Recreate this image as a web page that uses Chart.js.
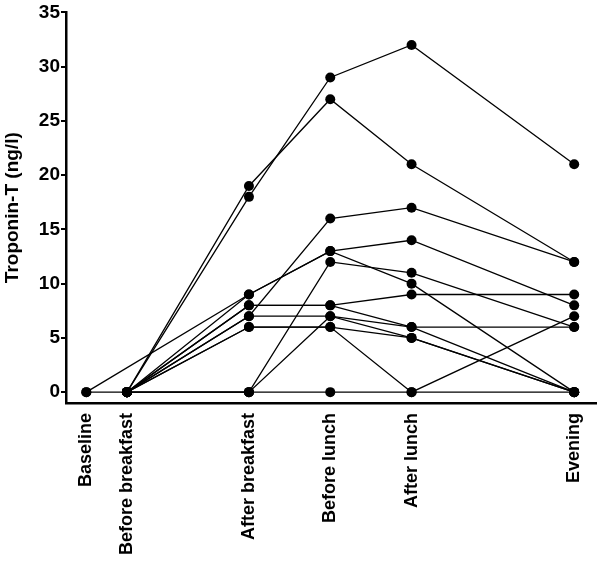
<!DOCTYPE html>
<html><head><meta charset="utf-8">
<script src="https://cdn.jsdelivr.net/npm/chart.js@4"></script>
<style>html,body{margin:0;padding:0;background:#fff}#wrap{width:606px;height:561px}</style>
</head><body><div id="wrap"><canvas id="c" width="606" height="561"></canvas></div>
<script>
const categories = ['Baseline','Before breakfast','After breakfast','Before lunch','After lunch','Evening'];
const timePositions = [0, 1, 4, 6, 8, 12];
const yTicks = [0, 5, 10, 15, 20, 25, 30, 35];
const subject1  = [0,    null, 9,  13, 14, 8];
const subject2  = [null, 0,    18, 29, 32, 21];
const subject3  = [null, 0,    19, 27, 21, 12];
const subject4  = [null, 0,    7,  16, 17, 12];
const subject5  = [null, 0,    9,  13, 10, 0];
const subject6  = [null, 0,    0,  12, 11, 6];
const subject7  = [null, 0,    8,  8,  9,  9];
const subject8  = [null, 0,    8,  8,  6,  0];
const subject9  = [null, 0,    7,  7,  6,  6];
const subject10 = [null, 0,    0,  7,  5,  0];
const subject11 = [null, 0,    6,  6,  5,  0];
const subject12 = [null, 0,    6,  6,  0,  7];
const subject13 = [0,    0,    0,  0,  0,  0];
const subjects = [subject1,subject2,subject3,subject4,subject5,subject6,subject7,subject8,subject9,subject10,subject11,subject12,subject13];

const FONT = "'Liberation Sans', Arial, sans-serif";
const datasets = subjects.map((vals, i) => ({
  label: 'Subject ' + (i + 1),
  data: vals.map((v, k) => ({ x: timePositions[k], y: v })),
  borderColor: '#000',
  backgroundColor: '#000',
  borderWidth: 1.3,
  pointRadius: 5,
  pointBackgroundColor: '#000',
  pointBorderWidth: 0,
  spanGaps: true,
  tension: 0,
  clip: false
}));

new Chart(document.getElementById('c'), {
  type: 'line',
  data: { datasets },
  options: {
    responsive: false,
    animation: false,
    devicePixelRatio: 1,
    layout: { padding: { top: 11, right: 0, left: 0, bottom: 0 } },
    plugins: { legend: { display: false }, tooltip: { enabled: false } },
    scales: {
      x: {
        type: 'linear',
        min: -0.5,
        max: 12.55,
        afterBuildTicks: (s) => { s.ticks = timePositions.map(v => ({ value: v })); },
        afterFit: (s) => { s.height = 158; },
        grid: { display: false, drawTicks: false },
        border: { display: true, color: '#000', width: 2.5 },
        ticks: {
          autoSkip: false,
          maxRotation: 90, minRotation: 90,
          padding: 10,
          color: '#000',
          font: { family: FONT, size: 18, weight: 'bold' },
          callback: (v) => categories[timePositions.indexOf(v)]
        }
      },
      y: {
        min: -1,
        max: 35,
        afterBuildTicks: (s) => { s.ticks = yTicks.map(v => ({ value: v })); },
        afterFit: (s) => { s.width = 66; },
        grid: { display: true, drawOnChartArea: false, drawTicks: true, tickLength: 5, color: '#000', lineWidth: 2 },
        border: { display: true, color: '#000', width: 2.5 },
        ticks: {
          padding: 1,
          color: '#000',
          font: { family: FONT, size: 19, weight: 'bold' }
        },
        title: {
          display: true,
          text: 'Troponin-T (ng/l)',
          color: '#000',
          padding: { top: 1, bottom: 0 },
          font: { family: FONT, size: 19, weight: 'bold' }
        }
      }
    }
  }
});
</script></body></html>
